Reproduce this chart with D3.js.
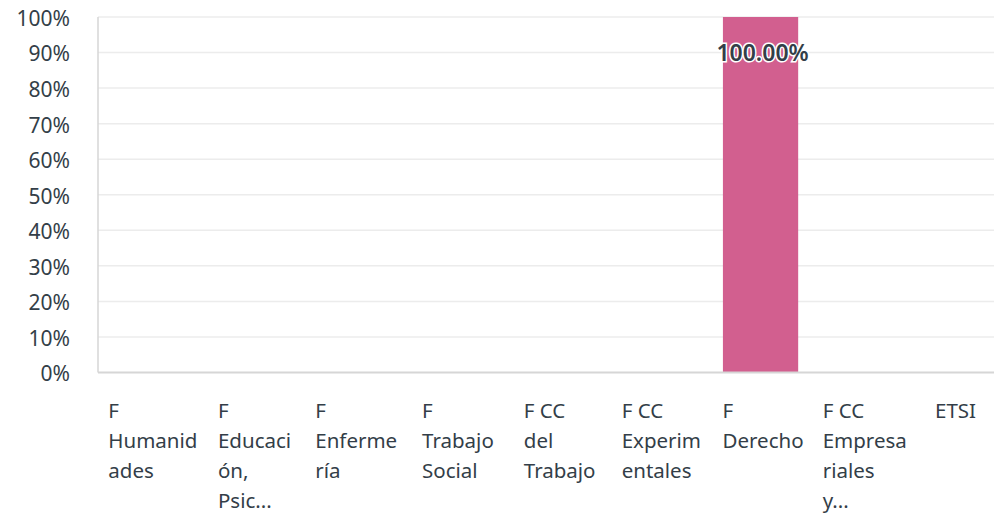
<!DOCTYPE html>
<html>
<head>
<meta charset="utf-8">
<script src="https://cdn.jsdelivr.net/npm/d3@7"></script>
<style>
  body { margin: 0; background: #fff; }
  text { font-family: "Noto Sans", sans-serif; fill: #333e48; }
</style>
</head>
<body>
<div id="chart"></div>
<script>
// Data
const categories = ['F Humanidades', 'F Educación, Psic...', 'F Enfermería', 'F Trabajo Social',
    'F CC del Trabajo', 'F CC Experimentales', 'F Derecho', 'F CC Empresariales y...', 'ETSI'];
const tickLines = [
    ['F', 'Humanid', 'ades'],
    ['F', 'Educaci', 'ón,', 'Psic...'],
    ['F', 'Enferme', 'ría'],
    ['F', 'Trabajo', 'Social'],
    ['F CC', 'del', 'Trabajo'],
    ['F CC', 'Experim', 'entales'],
    ['F', 'Derecho'],
    ['F CC', 'Empresa', 'riales', 'y...'],
    ['ETSI']
];
const values = [0, 0, 0, 0, 0, 0, 100, 0, 0];
const yTicks = [0, 10, 20, 30, 40, 50, 60, 70, 80, 90, 100];

// Dimensions
const width = 994, height = 513;
const margin = { top: 17, left: 98, bottom: 140.5, right: 0 };
const plotBottom = height - margin.bottom;

const svg = d3.select('#chart')
    .append('svg')
    .attr('width', width)
    .attr('height', height);

// Scales
const xScale = d3.scaleBand()
    .domain(categories)
    .range([margin.left + 1.5, margin.left + 1.5 + 9 * 101.7])
    .paddingInner(0.26)
    .paddingOuter(0.13);

const yScale = d3.scaleLinear()
    .domain([0, 100])
    .range([plotBottom, margin.top]);

// Gridlines
svg.append('g')
    .selectAll('line')
    .data(yTicks.filter(t => t > 0))
    .join('line')
    .attr('x1', margin.left)
    .attr('x2', width)
    .attr('y1', d => yScale(d))
    .attr('y2', d => yScale(d))
    .attr('stroke', '#ececec')
    .attr('stroke-width', 1.5);

// Y axis labels
const yAxis = d3.axisLeft(yScale)
    .tickValues(yTicks)
    .tickFormat(d => d + '%')
    .tickSize(0)
    .tickPadding(28);

svg.append('g')
    .attr('transform', 'translate(' + margin.left + ',0)')
    .call(yAxis)
    .call(g => g.select('.domain').remove())
    .call(g => g.selectAll('text')
        .style('font-size', '21px')
        .attr('fill', '#333e48')
        .attr('dy', '0.4em'));

// Bars
svg.append('g')
    .selectAll('rect')
    .data(values)
    .join('rect')
    .attr('x', (d, i) => xScale(categories[i]))
    .attr('width', xScale.bandwidth())
    .attr('y', d => yScale(d))
    .attr('height', d => plotBottom - yScale(d))
    .attr('fill', '#d25f8f');

// Axis lines
svg.append('line')
    .attr('x1', margin.left).attr('x2', margin.left)
    .attr('y1', margin.top).attr('y2', plotBottom)
    .attr('stroke', '#d6d6d6').attr('stroke-width', 1.5);
svg.append('line')
    .attr('x1', margin.left).attr('x2', width)
    .attr('y1', plotBottom).attr('y2', plotBottom)
    .attr('stroke', '#d6d6d6').attr('stroke-width', 2);

// Data labels
svg.append('g')
    .selectAll('text')
    .data(values.map((v, i) => ({ v, i })).filter(d => d.v > 0))
    .join('text')
    .attr('x', d => xScale(categories[d.i]) + xScale.bandwidth() / 2 + 2)
    .attr('y', d => yScale(d.v - 10))
    .attr('dy', '0.36em')
    .attr('text-anchor', 'middle')
    .style('font-size', '23px')
    .style('font-weight', '600')
    .attr('stroke', '#fff')
    .attr('stroke-width', 3)
    .attr('paint-order', 'stroke')
    .text(d => d.v.toFixed(2) + '%');

// X tick labels (wrapped, left aligned block centered on band)
const xLabels = svg.append('g');
tickLines.forEach((lines, i) => {
    const center = xScale(categories[i]) + xScale.bandwidth() / 2 + 2.5;
    const t = xLabels.append('text')
        .attr('y', 418)
        .style('font-size', '20.5px');
    lines.forEach((ln, j) => {
        t.append('tspan')
            .attr('dy', j === 0 ? 0 : 30)
            .text(ln);
    });
    const w = d3.max(t.selectAll('tspan').nodes(), n => n.getComputedTextLength());
    let left = center - w / 2;
    if (left + w > 976) left = 976 - w;
    t.selectAll('tspan').attr('x', left);
});
</script>
</body>
</html>
